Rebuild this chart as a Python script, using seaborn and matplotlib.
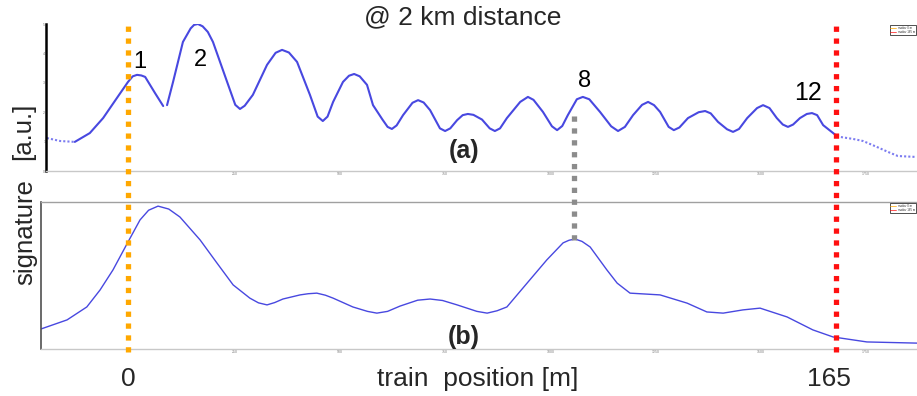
import matplotlib
matplotlib.use("Agg")
import matplotlib.pyplot as plt
import seaborn as sns
import pandas as pd

# ---------------- data (train position [m], signature [a.u.]) ----------------
# panel (a): light dotted tail on the left
a_left_pos = [-18.9, -15.8, -12.4]
a_left_sig = [1.12, 1.02, 0.99]
# panel (a): main curve, part before the small gap
a_main1_pos = [-12.4, -8.9, -5.8, -2.6, 0.0, 1.1, 2.1, 3.1, 4.0, 6.3, 8.2]
a_main1_sig = [0.99, 1.29, 1.80, 2.48, 3.03, 3.22, 3.27, 3.25, 3.20, 2.65, 2.21]
# panel (a): main curve, part after the gap
a_main2_pos = [9.1, 10.5, 12.8, 14.6, 15.4, 16.3, 17.4, 18.6, 19.8, 23.1,
               25.0, 26.1, 27.2, 29.1, 32.4, 34.4, 35.9, 37.5, 39.4, 42.4,
               44.2, 45.4, 46.5, 47.8, 50.1, 51.5, 52.7, 54.0, 55.7, 57.1,
               59.3, 60.5, 61.5, 62.6, 64.1, 66.3, 67.6, 68.9, 70.4, 72.7,
               73.9, 75.1, 76.7, 78.0, 79.2, 80.5, 82.5, 84.3, 85.5, 86.7,
               88.3, 91.4, 93.2, 94.5, 96.7, 98.8, 100.0, 101.2, 102.5, 104.6,
               106.0, 107.5, 110.0, 112.6, 114.2, 115.8, 117.7, 119.8, 121.2, 122.6,
               124.0, 126.0, 127.2, 128.5, 130.5, 133.0, 134.5, 135.8, 137.5, 139.6,
               141.0, 142.4, 144.3, 146.6, 148.0, 149.5, 151.2, 152.6, 153.8, 155.0,
               156.6, 158.2, 159.4, 160.6, 162.0, 165.2]
a_main2_sig = [2.24, 3.03, 4.39, 4.85, 4.97, 5.00, 4.92, 4.73, 4.39, 3.03,
               2.25, 2.11, 2.22, 2.59, 3.61, 4.02, 4.12, 4.03, 3.71, 2.59,
               1.85, 1.70, 1.85, 2.35, 3.03, 3.24, 3.30, 3.22, 2.93, 2.24,
               1.75, 1.50, 1.43, 1.55, 1.90, 2.32, 2.41, 2.33, 2.07, 1.45,
               1.36, 1.45, 1.73, 1.90, 1.94, 1.91, 1.75, 1.45, 1.36, 1.45,
               1.80, 2.35, 2.52, 2.42, 2.01, 1.52, 1.39, 1.53, 1.90, 2.44,
               2.52, 2.44, 2.01, 1.52, 1.36, 1.50, 1.90, 2.25, 2.35, 2.24,
               2.01, 1.50, 1.39, 1.48, 1.80, 2.00, 2.04, 1.96, 1.67, 1.42,
               1.33, 1.43, 1.80, 2.14, 2.24, 2.14, 1.80, 1.58, 1.50, 1.58,
               1.80, 1.94, 1.97, 1.90, 1.56, 1.19]
# panel (a): light dotted tail on the right
a_right_pos = [165.2, 165.9, 169.0, 171.3, 174.5, 177.1, 179.4, 183.4]
a_right_sig = [1.19, 1.16, 1.09, 1.02, 0.82, 0.65, 0.51, 0.48]

# panel (b)
b_pos = [-20.3, -14.2, -9.6, -6.5, -3.5, 0.0, 2.8, 4.8, 7.0, 9.5, 12.1, 16.8,
         20.7, 24.5, 28.4, 30.4, 32.4, 34.2, 36.1, 40.1, 42.0, 44.0, 46.0, 47.8,
         52.4, 55.8, 58.0, 60.5, 63.4, 67.5, 70.4, 73.3, 76.7, 81.3, 83.7, 86.0,
         88.3, 93.0, 97.6, 101.4, 102.8, 104.2, 105.8, 107.7, 111.6, 114.0, 117.0,
         124.0, 130.3, 134.9, 138.7, 143.3, 147.3, 153.6, 159.6, 164.3, 172.2, 183.9]
b_sig = [0.68, 0.99, 1.43, 2.01, 2.69, 3.64, 4.39, 4.72, 4.86, 4.76, 4.49, 3.71,
         2.93, 2.18, 1.73, 1.57, 1.50, 1.58, 1.70, 1.84, 1.88, 1.90, 1.83, 1.73,
         1.43, 1.28, 1.22, 1.28, 1.46, 1.66, 1.70, 1.65, 1.50, 1.28, 1.22, 1.30,
         1.43, 2.24, 3.03, 3.61, 3.70, 3.74, 3.66, 3.47, 2.69, 2.24, 1.90,
         1.84, 1.56, 1.26, 1.22, 1.33, 1.39, 1.09, 0.65, 0.41, 0.24, 0.20]

# vertical markers
marker_pos = [0, 104, 165]
marker_colors = ["#FFA800", "#8C8C8C", "#FF1010"]

# peak labels in panel (a)
peak_labels = ["1", "2", "8", "12"]
peak_label_pos = [2.8, 16.8, 106.5, 158.5]
peak_label_sig = [3.71, 3.78, 3.06, 2.65]

# tiny tick labels of the original plots
tick_pos = [24.9, 49.4, 73.9, 98.4, 122.9, 147.4, 171.9]
tick_labels = ["250", "500", "750", "1000", "1250", "1500", "1750"]

# ---------------- figure ----------------
sns.set_theme(style="white")
plt.rcParams["font.family"] = ["Liberation Sans", "DejaVu Sans"]

fig = plt.figure(figsize=(9.17, 3.96), dpi=100)
BLUE = "#4848E0"

ax_a = fig.add_axes([46 / 917, 1 - 171 / 396, 1 - 46 / 917, 147 / 396])
ax_b = fig.add_axes([41 / 917, 1 - 349 / 396, 1 - 41 / 917, 147 / 396])

def seg(pos, sig):
    return pd.DataFrame({"pos": pos, "sig": sig})

sns.lineplot(data=seg(a_left_pos, a_left_sig), x="pos", y="sig", ax=ax_a,
             color="#7c7cf0", lw=1.5, linestyle=(0, (1, 1)), sort=False)
sns.lineplot(data=seg(a_main1_pos, a_main1_sig), x="pos", y="sig", ax=ax_a,
             color=BLUE, lw=1.5, sort=False)
sns.lineplot(data=seg(a_main2_pos, a_main2_sig), x="pos", y="sig", ax=ax_a,
             color=BLUE, lw=1.5, sort=False)
sns.lineplot(data=seg(a_right_pos, a_right_sig), x="pos", y="sig", ax=ax_a,
             color="#7c7cf0", lw=1.5, linestyle=(0, (1, 1)), sort=False)
sns.lineplot(data=seg(b_pos, b_sig), x="pos", y="sig", ax=ax_b,
             color=BLUE, lw=1.0, sort=False)

for ax, x0 in ((ax_a, (46 - 128) / 4.291), (ax_b, (41 - 128) / 4.291)):
    ax.set_xlim(x0, (917 - 128) / 4.291)
    ax.set_ylim(0, 5)
    ax.set_xlabel("")
    ax.set_ylabel("")
    ax.set_facecolor("none")
    ax.set_xticks(tick_pos)
    ax.set_xticklabels(tick_labels, fontsize=2.5, color="#777777")
    ax.tick_params(axis="x", length=1.5, width=0.5, pad=0.5, color="#999999", direction="in")
    ax.spines["right"].set_visible(False)
    ax.spines["bottom"].set_color("#C8C8C8")
    ax.spines["bottom"].set_linewidth(1.0)

ax_a.spines["top"].set_visible(False)
ax_a.spines["left"].set_color("black")
ax_a.spines["left"].set_linewidth(1.8)
ax_a.set_yticks([0, 1, 2, 3, 4, 5])
ax_a.set_yticklabels(["0", "1", "2", "3", "4", "5"], fontsize=2.5, color="#777777")
ax_a.tick_params(axis="y", length=1.5, width=0.5, pad=0.5, direction="in")

ax_b.spines["top"].set_color("#A0A0A0")
ax_b.spines["top"].set_linewidth(1.0)
ax_b.spines["left"].set_color("#505050")
ax_b.spines["left"].set_linewidth(1.2)
ax_b.set_yticks([1, 2, 3, 4])
ax_b.set_yticklabels([])
ax_b.tick_params(axis="y", length=1.5, width=0.5, direction="in")

# tiny legends
for ax in (ax_a, ax_b):
    h = [plt.Line2D([], [], color="#FFA800", lw=0.5), plt.Line2D([], [], color="#FF1010", lw=0.5)]
    leg = ax.legend(h, ["marker 0 m", "marker 165 m"], loc="upper right",
                    fontsize=2, frameon=True, borderpad=0.2, handlelength=2,
                    labelspacing=0.1, bbox_to_anchor=(1.0, 1.0))
    leg.get_frame().set_edgecolor("black")
    leg.get_frame().set_linewidth(0.6)
    leg.get_frame().set_boxstyle("square", pad=0)

# peak labels
for lab, xp, yp in zip(peak_labels, peak_label_pos, peak_label_sig):
    ax_a.text(xp, yp, lab, fontsize=17 if lab != "12" else 18,
              ha="center", va="center", color="black")

# overlay for the dashed markers spanning both panels
ov = fig.add_axes([0, 0, 1, 1], zorder=10)
ov.set_xlim((0 - 128) / 4.291, (917 - 128) / 4.291)
ov.set_ylim(0, 1)
ov.axis("off")
ov.patch.set_alpha(0)
spans = [(1 - 352 / 396, 1 - 22 / 396), (1 - 240 / 396, 1 - 112 / 396), (1 - 352 / 396, 1 - 24 / 396)]
for xm, c, (y0, y1) in zip(marker_pos, marker_colors, spans):
    ov.vlines(xm, y0, y1, colors=c, lw=3.8, linestyles=[(0, (1.0, 1.25))])

# texts
fig.text(463 / 917, 1 - 17 / 396, "@ 2 km distance", fontsize=19, ha="center", va="center")
fig.text(23 / 917, 1 - 131 / 396, "[a.u.]", fontsize=18.5, rotation=90, ha="center", va="center")
fig.text(25 / 917, 1 - 232 / 396, "signature", fontsize=18.5, rotation=90, ha="center", va="center")
fig.text(464 / 917, 1 - 151 / 396, "(a)", fontsize=18, fontweight="bold", ha="center", va="center")
fig.text(464 / 917, 1 - 337 / 396, "(b)", fontsize=18, fontweight="bold", ha="center", va="center")
ov.text(0, 1 - 379 / 396, "0", fontsize=19, ha="center", va="center")
ov.text(163.4, 1 - 379 / 396, "165", fontsize=19, ha="center", va="center")
fig.text(478 / 917, 1 - 379 / 396, "train  position [m]", fontsize=19, ha="center", va="center")

fig.savefig("out.png", dpi=100)
